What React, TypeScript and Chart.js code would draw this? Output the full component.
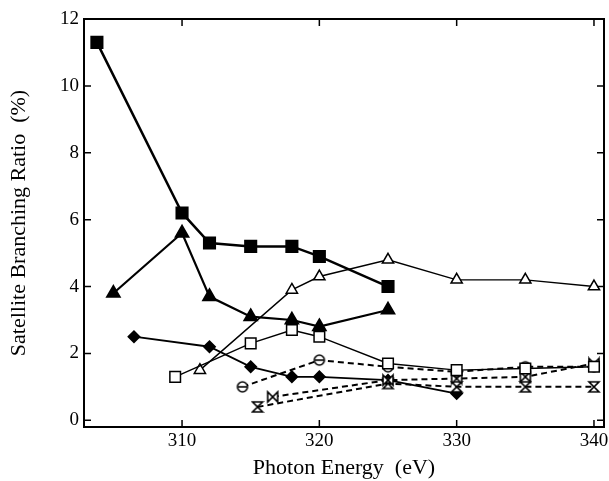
import React, { useEffect, useRef } from "react";
import { Chart, registerables } from "chart.js";

Chart.register(...registerables);

const xTicks = [310, 320, 330, 340];
const yTicks = [0, 2, 4, 6, 8, 10, 12];

const filledSquareX = [303.8, 310, 312, 315, 318, 320, 325];
const filledSquareY = [11.3, 6.2, 5.3, 5.2, 5.2, 4.9, 4.0];
const filledTriX = [305, 310, 312, 315, 318, 320, 325];
const filledTriY = [3.8, 5.6, 3.7, 3.1, 3.0, 2.8, 3.3];
const openTriX = [311.3, 318, 320, 325, 330, 335, 340];
const openTriY = [1.5, 3.9, 4.3, 4.8, 4.2, 4.2, 4.0];
const openSqX = [309.5, 315, 318, 320, 325, 330, 335, 340];
const openSqY = [1.3, 2.3, 2.7, 2.5, 1.7, 1.5, 1.55, 1.6];
const diamondX = [306.5, 312, 315, 318, 320, 325, 330];
const diamondY = [2.5, 2.2, 1.6, 1.3, 1.3, 1.2, 0.8];
const circleBarX = [314.4, 320, 325, 330, 335, 340];
const circleBarY = [1.0, 1.8, 1.6, 1.45, 1.6, 1.6];
const bowtieX = [316.6, 325, 330, 335, 340];
const bowtieY = [0.7, 1.2, 1.25, 1.3, 1.7];
const hourglassX = [315.5, 325, 330, 335, 340];
const hourglassY = [0.4, 1.1, 1.0, 1.0, 1.0];

const pts = (xs: number[], ys: number[]) => xs.map((x, i) => ({ x, y: ys[i] }));

const FONT = "'Liberation Serif', 'Times New Roman', serif";

function makeMarker(kind: string): HTMLCanvasElement {
  const c = document.createElement("canvas");
  c.width = 14;
  c.height = 14;
  const g = c.getContext("2d")!;
  g.strokeStyle = "#000";
  g.fillStyle = "#fff";
  g.lineWidth = 1.6;
  if (kind === "circleBar") {
    g.beginPath();
    g.arc(7, 7, 5, 0, Math.PI * 2);
    g.fill();
    g.stroke();
    g.beginPath();
    g.moveTo(3, 7);
    g.lineTo(11, 7);
    g.stroke();
  } else if (kind === "hourglass") {
    g.beginPath();
    g.moveTo(2, 2);
    g.lineTo(12, 2);
    g.lineTo(2, 12);
    g.lineTo(12, 12);
    g.closePath();
    g.fill();
    g.stroke();
  } else if (kind === "bowtie") {
    g.beginPath();
    g.moveTo(2, 2);
    g.lineTo(2, 12);
    g.lineTo(12, 2);
    g.lineTo(12, 12);
    g.closePath();
    g.fill();
    g.stroke();
  }
  return c;
}

const framePlugin = {
  id: "frame",
  afterDraw(chart: any) {
    const { ctx, chartArea } = chart;
    const { left, right, top, bottom } = chartArea;
    const xs = chart.scales.x;
    const ys = chart.scales.y;
    ctx.save();
    ctx.strokeStyle = "#000";
    ctx.lineWidth = 2;
    ctx.strokeRect(left, top, right - left, bottom - top);
    ctx.lineWidth = 1.5;
    const L = 7;
    ctx.beginPath();
    xTicks.forEach((v) => {
      const px = xs.getPixelForValue(v);
      ctx.moveTo(px, bottom);
      ctx.lineTo(px, bottom - L);
      ctx.moveTo(px, top);
      ctx.lineTo(px, top + L);
    });
    yTicks.forEach((v) => {
      const py = ys.getPixelForValue(v);
      ctx.moveTo(left, py);
      ctx.lineTo(left + L, py);
      ctx.moveTo(right, py);
      ctx.lineTo(right - L, py);
    });
    ctx.stroke();
    ctx.fillStyle = "#000";
    ctx.font = `19px ${FONT}`;
    ctx.textAlign = "center";
    ctx.textBaseline = "middle";
    xTicks.forEach((v) => {
      ctx.fillText(String(v), xs.getPixelForValue(v), bottom + 14);
    });
    ctx.restore();
  },
};

export default function App() {
  const ref = useRef<HTMLCanvasElement>(null);
  useEffect(() => {
    const circleImg = makeMarker("circleBar");
    const hourImg = makeMarker("hourglass");
    const bowImg = makeMarker("bowtie");
    const dash = [6, 4];
    const chart = new Chart(ref.current!, {
      type: "scatter",
      data: {
        datasets: [
          {
            label: "open squares",
            data: pts(openSqX, openSqY),
            showLine: true,
            borderColor: "#000",
            borderWidth: 1.4,
            pointStyle: "rect",
            pointRadius: 7.5,
            pointBackgroundColor: "#fff",
            pointBorderColor: "#000",
            pointBorderWidth: 1.5,
          },
          {
            label: "open triangles",
            data: pts(openTriX, openTriY),
            showLine: true,
            borderColor: "#000",
            borderWidth: 1.4,
            pointStyle: "triangle",
            pointRadius: 6.5,
            pointBackgroundColor: "#fff",
            pointBorderColor: "#000",
            pointBorderWidth: 1.5,
          },
          {
            label: "circle bar",
            data: pts(circleBarX, circleBarY),
            showLine: true,
            borderColor: "#000",
            borderWidth: 2,
            borderDash: dash,
            pointStyle: circleImg as any,
          },
          {
            label: "bowtie",
            data: pts(bowtieX, bowtieY),
            showLine: true,
            borderColor: "#000",
            borderWidth: 2,
            borderDash: dash,
            pointStyle: bowImg as any,
          },
          {
            label: "hourglass",
            data: pts(hourglassX, hourglassY),
            showLine: true,
            borderColor: "#000",
            borderWidth: 2,
            borderDash: dash,
            pointStyle: hourImg as any,
          },
          {
            label: "diamonds",
            data: pts(diamondX, diamondY),
            showLine: true,
            borderColor: "#000",
            borderWidth: 1.8,
            pointStyle: "rectRot",
            pointRadius: 5.5,
            pointBackgroundColor: "#000",
            pointBorderColor: "#000",
          },
          {
            label: "filled triangles",
            data: pts(filledTriX, filledTriY),
            showLine: true,
            borderColor: "#000",
            borderWidth: 2.2,
            pointStyle: "triangle",
            pointRadius: 7,
            pointBackgroundColor: "#000",
            pointBorderColor: "#000",
          },
          {
            label: "filled squares",
            data: pts(filledSquareX, filledSquareY),
            showLine: true,
            borderColor: "#000",
            borderWidth: 2.5,
            pointStyle: "rect",
            pointRadius: 7.5,
            pointBackgroundColor: "#000",
            pointBorderColor: "#000",
          },
        ],
      },
      options: {
        responsive: false,
        animation: false,
        layout: { autoPadding: false, padding: { top: 19, right: 5, left: 0, bottom: 0 } },
        plugins: { legend: { display: false }, tooltip: { enabled: false } },
        scales: {
          x: {
            type: "linear",
            min: 302.86,
            max: 340.73,
            grid: { display: false, drawTicks: false },
            border: { display: false },
            afterBuildTicks: (s: any) => {
              s.ticks = xTicks.map((v) => ({ value: v }));
            },
            afterFit: (s: any) => {
              s.height = 54;
            },
            ticks: { display: false },
            title: {
              display: true,
              text: "Photon Energy  (eV)",
              color: "#000",
              padding: { top: 0, bottom: 0 },
              font: { family: FONT, size: 22 },
            },
          },
          y: {
            type: "linear",
            min: -0.2,
            max: 12,
            grid: { display: false, drawTicks: false },
            border: { display: false },
            afterBuildTicks: (s: any) => {
              s.ticks = yTicks.map((v) => ({ value: v }));
            },
            afterFit: (s: any) => {
              s.width = 84;
            },
            ticks: {
              color: "#000",
              padding: 5,
              font: { family: FONT, size: 19 },
            },
            title: {
              display: true,
              text: "Satellite Branching Ratio  (%)",
              color: "#000",
              padding: { top: 6, bottom: 0 },
              font: { family: FONT, size: 22 },
            },
          },
        },
      },
      plugins: [framePlugin],
    });
    return () => chart.destroy();
  }, []);
  return (
    <div style={{ position: "fixed", left: 0, top: 0, width: 609, height: 481, background: "#fff" }}>
      <canvas ref={ref} width={609} height={481} style={{ display: "block" }} />
    </div>
  );
}
